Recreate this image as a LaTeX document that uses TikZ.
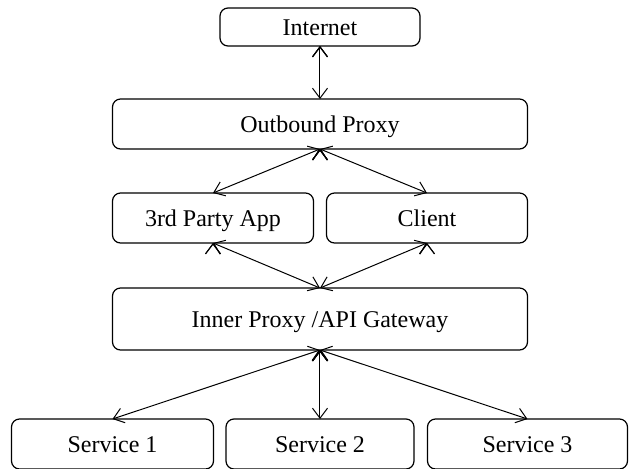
\documentclass[tikz,border=0pt]{standalone}
\usepackage{fontspec}
\setmainfont{Liberation Serif}
\usetikzlibrary{positioning, arrows.meta}

\begin{document}
\begin{tikzpicture}[x=0.5pt, y=-0.5pt, <->, >={Straight Barb[length=5pt,width=7.5pt]}, line width=0.5pt,
		box/.style={draw, line width=0.6pt, rounded corners=4pt, minimum height=25pt, inner sep=0pt, outer sep=0pt, text height=8pt, text depth=0pt, font=\fontsize{12}{14}\selectfont}]
		\useasboundingbox (0,0) rectangle (629,468);
		\node[box, minimum width=100pt, minimum height=19pt] (inet) at (320,27) {Internet};
		\node[box, minimum width=207.5pt, below=26.5pt of inet] (outp) {Outbound Proxy};
		\node[box, minimum width=100.5pt, below right=22pt and 0pt of outp.south west] (tpa) {3rd Party App};
		\node[box, minimum width=100.5pt, below left=22pt and 0pt of outp.south east] (cli) {Client};
		\node[box, minimum width=207.5pt, minimum height=31pt, below right=22.5pt and 0pt of tpa.south west] (gw) {Inner Proxy /API Gateway};
		\node[box, minimum width=101pt, below=34.5pt of gw.south west] (s1) {Service 1};
		\node[box, minimum width=94pt, below=34.5pt of gw] (s2) {Service 2};
		\node[box, minimum width=100pt, below=34.5pt of gw.south east] (s3) {Service 3};
		
		
		\draw (inet.south) edge[] (outp.north) ;
		\draw (outp.south) edge[] (tpa.north) ;
		\draw (outp.south) edge[] (cli.north) ;
		\draw (tpa.south) edge[] (gw.north) ;
		\draw (cli.south) edge[] (gw.north) ;
		\draw (gw.south) edge[] (s1.north) ;
		\draw (gw.south) edge[] (s2.north) ;
		\draw (gw.south) edge[] (s3.north) ;
		
	\end{tikzpicture}
\end{document}
